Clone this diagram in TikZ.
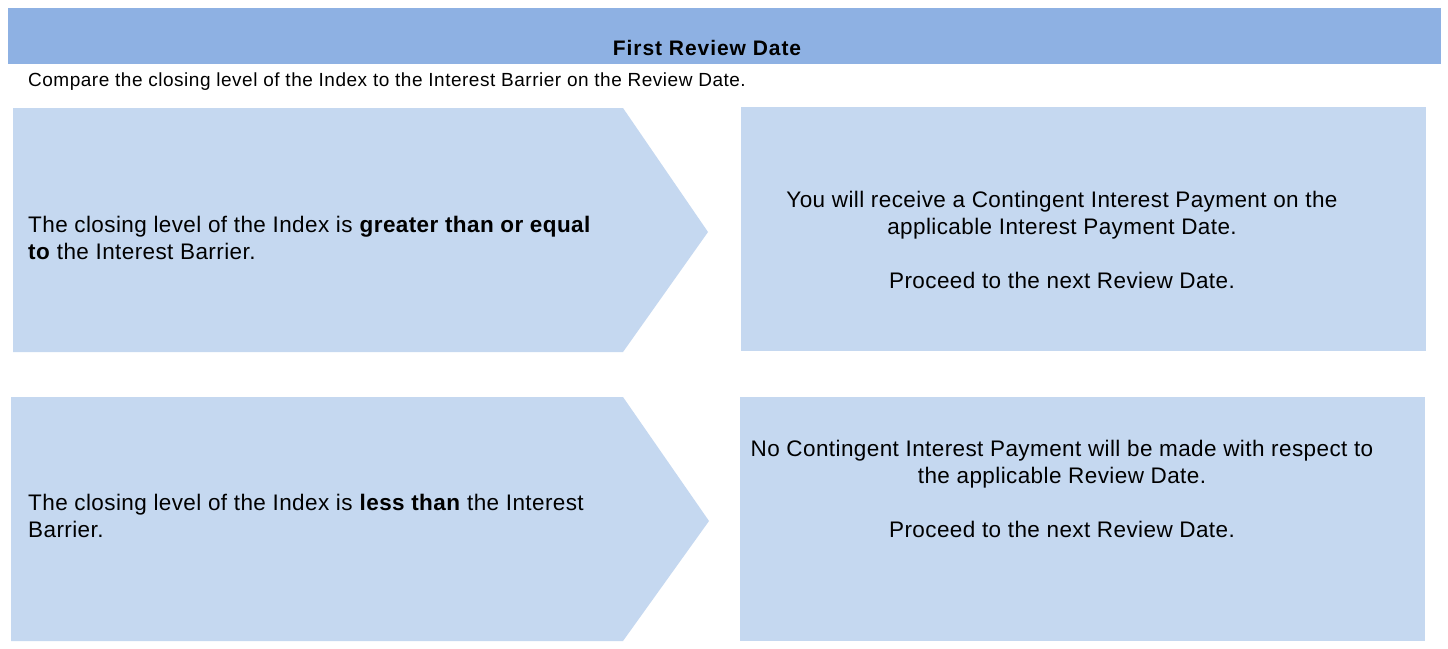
\documentclass[tikz,border=0pt]{standalone}
\usepackage{fontspec}
\setmainfont{Liberation Sans}
\definecolor{hdr}{HTML}{8EB1E3}
\definecolor{boxc}{HTML}{C5D8F0}
\begin{document}
\begin{tikzpicture}[x=1pt,y=-1pt,
  bodytext/.style={inner sep=0pt,font=\fontsize{22.5}{27}\selectfont\addfontfeature{LetterSpace=1.8}},
  lefttext/.style={bodytext,align=left,anchor=base west},
  righttext/.style={bodytext,align=center,anchor=base}]
\useasboundingbox (0,0) rectangle (1448,648);
\fill[white] (0,0) rectangle (1448,648);
\fill[hdr] (8,8) rectangle (1441,64);
\node[inner sep=0pt,anchor=base,font=\fontsize{21}{23}\selectfont\bfseries\addfontfeature{LetterSpace=4.5}] (title) at (707,55) {First Review Date};
\node[inner sep=0pt,anchor=base west,font=\fontsize{19}{22}\selectfont\addfontfeature{LetterSpace=2.7}] (sub) at (28,86) {Compare the closing level of the Index to the Interest Barrier on the Review Date.};
\fill[boxc] (13,108) -- (623,108) -- (708,232) -- (623,352) -- (13,352) -- cycle;
\fill[boxc] (741,107) rectangle (1426,351);
\fill[boxc] (11,397) -- (623,397) -- (709,521) -- (623,641) -- (11,641) -- cycle;
\fill[boxc] (740,397) rectangle (1425,641);
\node[lefttext] (c1) at (28,259) {The closing level of the Index is \textbf{greater than or equal}\\\textbf{to} the Interest Barrier.};
\node[righttext] (r1) at (1062,288) {You will receive a Contingent Interest Payment on the\\applicable Interest Payment Date.\\[27pt]Proceed to the next Review Date.};
\node[lefttext] (c2) at (28,537) {The closing level of the Index is \textbf{less than} the Interest\\Barrier.};
\node[righttext] (r2) at (1062,537) {No Contingent Interest Payment will be made with respect to\\the applicable Review Date.\\[27pt]Proceed to the next Review Date.};
\end{tikzpicture}
\end{document}
